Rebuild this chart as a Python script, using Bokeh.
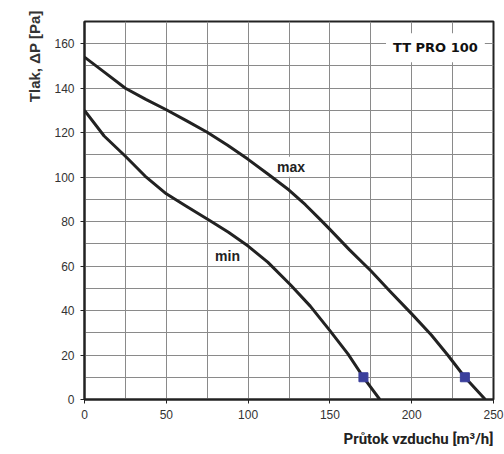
from bokeh.plotting import figure
from bokeh.models import Range1d, SingleIntervalTicker, Label, Title, FixedTicker
from bokeh.embed import file_html
from bokeh.resources import INLINE

flow_max = [0, 12.5, 25, 37.5, 50, 62.5, 75, 87.5, 100, 112.5, 125, 135, 144, 150, 162, 175, 187, 200, 212, 222, 232.5, 245]
pressure_max = [154, 147, 140, 135, 130.3, 125.3, 120.2, 114.3, 108, 101.2, 94.2, 87.6, 81, 76.5, 67.3, 57.9, 48.5, 38.5, 29, 20, 10, 0]
flow_min = [0, 12, 25, 37, 50, 62, 77, 88, 100, 112, 126, 138, 150, 161, 170.5, 180.5]
pressure_min = [130, 118.5, 109.4, 100.5, 92.5, 87, 80.3, 75.2, 69, 61.8, 51.5, 42, 31, 20.5, 10, 0]
rated_flow = [170.5, 232.5]
rated_pressure = [10, 10]
x_ticks = [0, 50, 100, 150, 200, 250]
y_ticks = [0, 20, 40, 60, 80, 100, 120, 140, 160]

p = figure(width=504, height=454, output_backend="svg", toolbar_location=None,
           x_range=Range1d(0, 250), y_range=Range1d(0, 170),
           min_border_left=84, min_border_right=11, min_border_top=21, min_border_bottom=55)

p.xaxis.ticker = FixedTicker(ticks=x_ticks)
p.yaxis.ticker = FixedTicker(ticks=y_ticks)
p.xgrid.ticker = SingleIntervalTicker(interval=25)
p.ygrid.ticker = SingleIntervalTicker(interval=10)
for g in (p.xgrid, p.ygrid):
    g.grid_line_color = "#8a8a8a"
    g.grid_line_width = 1
    g.grid_line_alpha = 1

for ax in (p.xaxis, p.yaxis):
    ax.axis_line_color = "#222222"
    ax.axis_line_width = 2
    ax.major_tick_line_color = "#222222"
    ax.major_tick_in = 0
    ax.major_tick_out = 4
    ax.minor_tick_line_color = None
    ax.major_label_text_font = "Liberation Sans"
    ax.major_label_text_font_size = "12px"
    ax.major_label_text_color = "#333333"
p.xaxis.major_label_standoff = 6
p.yaxis.major_label_standoff = 6

p.outline_line_color = "#222222"
p.outline_line_width = 2

p.line(flow_max, pressure_max, line_color="#222222", line_width=3, line_join="round")
p.line(flow_min, pressure_min, line_color="#222222", line_width=3, line_join="round")
p.scatter(rated_flow, rated_pressure, marker="square", size=9, fill_color="#3b3f9c", line_color="#3b3f9c")

p.add_layout(Label(x=126.2, y=104.7, text="max", text_font="Liberation Sans", text_font_style="bold",
                   text_font_size="14px", text_color="#222222", text_align="center", text_baseline="middle",
                   background_fill_color="white", padding=2))
p.add_layout(Label(x=87.4, y=64.5, text="min", text_font="Liberation Sans", text_font_style="bold",
                   text_font_size="14px", text_color="#222222", text_align="center", text_baseline="middle",
                   background_fill_color="white", padding=2))
p.add_layout(Label(x=214.5, y=158.2, text="TT PRO 100", text_font="DejaVu Sans", text_font_style="bold",
                   text_font_size="13px", text_color="#111111", text_align="center", text_baseline="middle",
                   background_fill_color="white", padding=7))

ytitle = Title(text="Tlak, ΔP [Pa]", align="right", text_font="Liberation Sans", text_font_style="bold",
               text_font_size="15px", text_color="#333333", offset=-11, standoff=17)
p.add_layout(ytitle, "left")
xtitle = Title(text="Průtok vzduchu [m³/h]", align="left", offset=259, text_font="Roboto", text_font_style="bold",
               text_font_size="15px", text_color="#222222", standoff=12)
p.add_layout(xtitle, "below")

open("out.html", "w").write(file_html(p, INLINE))
